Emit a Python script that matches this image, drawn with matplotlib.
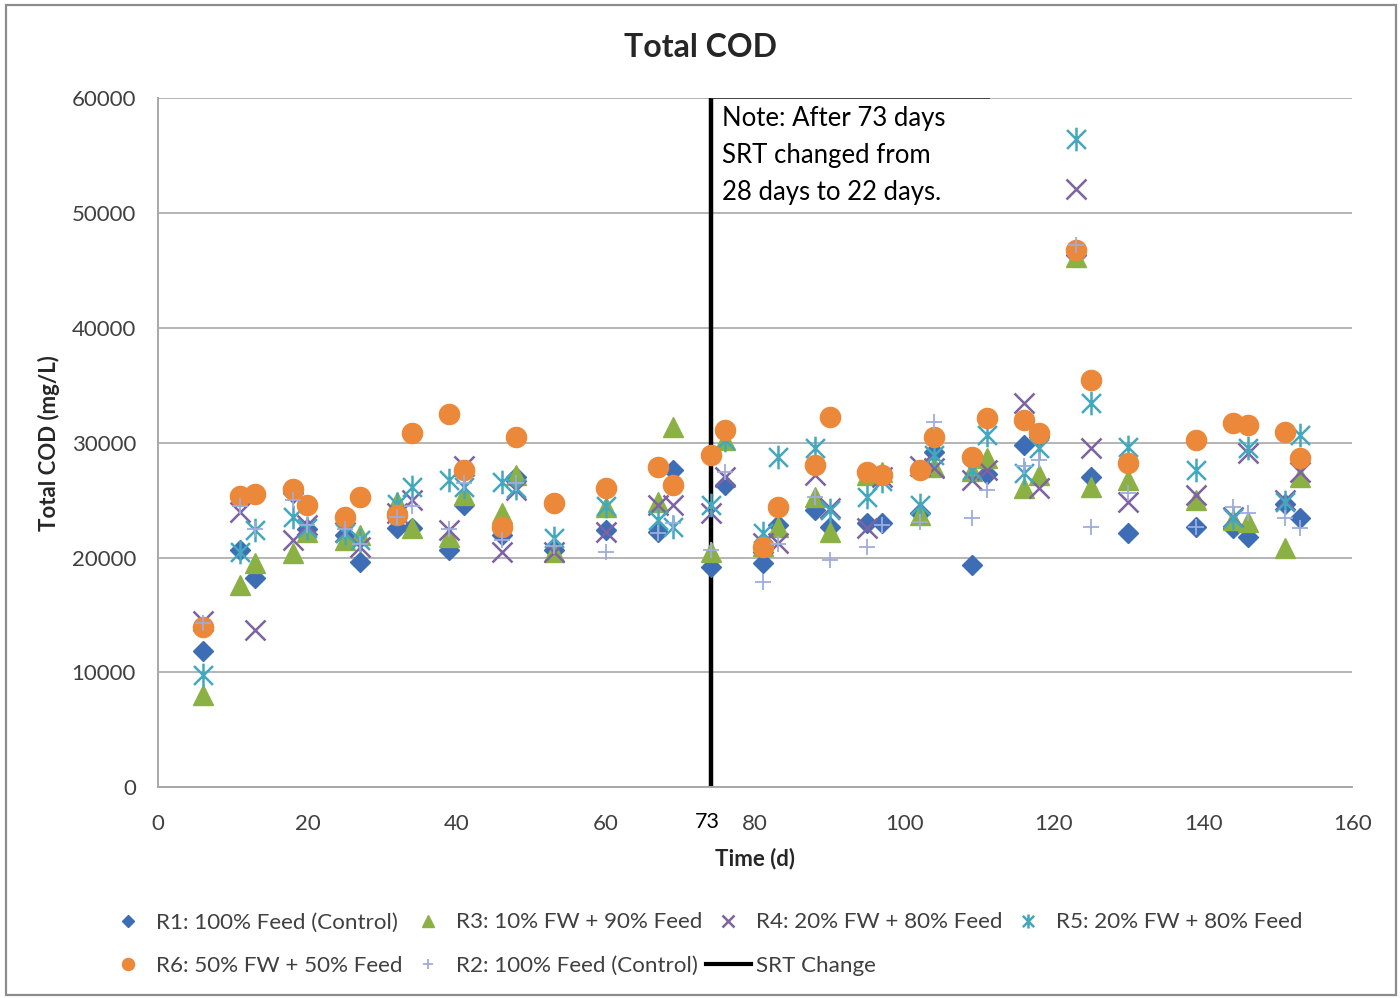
'''
Total COD of the six reactors over time, SRT change marked at day 73.
'''

import matplotlib
matplotlib.use('Agg')
import matplotlib.pyplot as plt
import numpy as np
from matplotlib.lines import Line2D
from matplotlib.patches import Rectangle
from matplotlib.path import Path

plt.rcParams['font.family'] = ['Lato', 'DejaVu Sans']

########
# DATA #
########

days = [6, 11, 13, 18, 20, 25, 27, 32, 34, 39, 41, 46, 48, 53, 60, 67, 69, 74, 76,
        81, 83, 88, 90, 95, 97, 102, 104, 109, 111, 116, 118, 123, 125, 130, 139,
        144, 146, 151, 153]

r1 = [11840, 20640, 18200, 25600, 22500, 22000, 19600, 22550, 22600, 20640, 24560,
      21950, 27000, 20640, 22380, 22200, 27600, 19160, 26300, 19500, 22800, 24120,
      22640, 22990, 22990, 23860, 29170, 19330, 27300, 29780, 30500, 46300, 27000,
      22120, 22640, 22550, 21770, 24700, 23430]
r3 = [8010, 17600, 19500, 20400, 22200, 21500, 21950, 24800, 22550, 21770, 25430,
      23860, 27170, 20470, 24380, 24820, 31350, 20470, 30200, 21000, 22640, 25260,
      22200, 27170, 27430, 23690, 27870, 27500, 28650, 26040, 27170, 46160, 26130,
      26740, 24990, 23250, 23080, 20810, 27000]
r4 = [14500, 23950, 13670, 21500, 22800, 22200, 20900, 23900, 25000, 22380, 28000,
      20470, 25860, 20470, 22200, 24560, 24560, 23860, 27000, 21300, 21250, 27170,
      24300, 22550, 27000, 28000, 27780, 26740, 27600, 33440, 26040, 52080, 29520,
      24820, 25430, 23510, 29090, 24990, 27430]
r5 = [9750, 20470, 22380, 23500, 22550, 22100, 21500, 24700, 26130, 26740, 26100,
      26560, 26040, 21680, 24500, 23250, 22640, 24560, 30200, 22120, 28740, 29520,
      24120, 25260, 26700, 24560, 28900, 27600, 30650, 27340, 29520, 56430, 33440,
      29610, 27600, 23430, 29520, 24820, 30650]
r6 = [13950, 25340, 25500, 25950, 24560, 23500, 25250, 23690, 30830, 32480, 27600,
      22640, 30480, 24730, 26040, 27870, 26300, 28900, 31090, 20900, 24380, 28040,
      32220, 27430, 27170, 27600, 30480, 28740, 32130, 31960, 30830, 46760, 35440,
      28210, 30220, 31700, 31520, 30920, 28650]
r2 = [14300, 24500, 22500, 25000, 22800, 22500, 21200, 23500, 24500, 22500, 26500,
      21500, 26500, 21000, 20470, 22120, 23000, 20640, 27430, 17850, 21200, 25260,
      19770, 20900, 22820, 23080, 31790, 23430, 25860, 28000, 28480, 47200, 22640,
      25600, 22640, 24380, 23860, 23430, 22550]

srt_day = 74
srt_label = '73'
note = 'Note: After 73 days\nSRT changed from\n28 days to 22 days.'

##########
# STYLES #
##########

# excel style asterisk: vertical bar plus an x
asterisk = Path([(0, -1), (0, 1), (-0.8, -0.8), (0.8, 0.8), (-0.8, 0.8), (0.8, -0.8)],
                [Path.MOVETO, Path.LINETO, Path.MOVETO, Path.LINETO, Path.MOVETO, Path.LINETO])

series = [
    ('R1: 100% Feed (Control)', r1, dict(marker='D', ms=10.5, color='#3D6DB4', ls='none')),
    ('R3: 10% FW + 90% Feed', r3, dict(marker='^', ms=15, color='#8BB144', ls='none')),
    ('R4: 20% FW + 80% Feed', r4, dict(marker='x', ms=14, mew=1.8, color='#7E62A3', ls='none')),
    ('R5: 20% FW + 80% Feed', r5, dict(marker=asterisk, ms=17, mew=1.8, color='#43A8BE', ls='none')),
    ('R6: 50% FW + 50% Feed', r6, dict(marker='o', ms=14.5, color='#EC883A', ls='none')),
    ('R2: 100% Feed (Control)', r2, dict(marker='+', ms=12, mew=1.3, color='#9EACDD', ls='none')),
]

########
# PLOT #
########

fig = plt.figure(figsize=(14, 9.98), dpi=100)
ax = fig.add_axes([0.113, 0.211, 0.853, 0.691])

handles = {}
for label, vals, style in series:
    h, = ax.plot(days, vals, label=label, zorder=3, **style)
    handles[label] = h

srt = ax.axvline(srt_day, color='black', lw=3.2, zorder=2)

ax.set_xlim(0, 160)
ax.set_ylim(0, 60000)
ax.set_xticks(np.arange(0, 161, 20))
ax.set_yticks(np.arange(0, 60001, 10000))
ax.yaxis.grid(True, color='#B4B4B4', lw=1.4)
ax.set_axisbelow(True)
for s in ['top', 'right']:
    ax.spines[s].set_visible(False)
for s in ['left', 'bottom']:
    ax.spines[s].set_color('#A8A8A8')
    ax.spines[s].set_linewidth(1.4)
ax.tick_params(axis='both', length=0, labelsize=16, labelcolor='#404040')
ax.tick_params(axis='y', pad=16)
ax.tick_params(axis='x', pad=19)

ax.text(73.6, -0.05, srt_label, transform=ax.get_xaxis_transform(), ha='center', va='center',
        fontsize=15.5, color='black')

ax.set_xlabel('Time (d)', fontsize=16, fontweight='bold', color='#262626', labelpad=10)
ax.set_ylabel('Total COD (mg/L)', fontsize=16, fontweight='bold', color='#262626', labelpad=8)
fig.text(0.5, 0.952, 'Total COD', ha='center', va='center', fontsize=23, fontweight='bold',
         color='#262626')

# note box
ax.hlines(60000, srt_day, 111.5, color='#303030', lw=1.2, zorder=2)
ax.text(75.6, 59250, note, ha='left', va='top', fontsize=18.5, linespacing=1.6, color='black')

# legend, column-major order to get the two rows right
order = ['R1: 100% Feed (Control)', 'R6: 50% FW + 50% Feed',
         'R3: 10% FW + 90% Feed', 'R2: 100% Feed (Control)',
         'R4: 20% FW + 80% Feed', None,
         'R5: 20% FW + 80% Feed']
leg_h, leg_l = [], []
for k in order:
    if k is None:
        leg_h.append(Line2D([], [], color='black', lw=3))
        leg_l.append('SRT Change')
    else:
        leg_h.append(handles[k])
        leg_l.append(k)
fig.legend(leg_h, leg_l, loc='center', bbox_to_anchor=(0.503, 0.054), ncol=4,
           frameon=False, fontsize=16.1, markerscale=0.6, handlelength=2.0,
           handletextpad=0.25, columnspacing=0.15, labelspacing=1.05,
           labelcolor='#404040')

# outer chart border
fig.patches.append(Rectangle((0.004, 0.003), 0.993, 0.992, transform=fig.transFigure,
                             fill=False, edgecolor='#8C8C8C', lw=1.6))

fig.savefig('out.png', dpi=100)
